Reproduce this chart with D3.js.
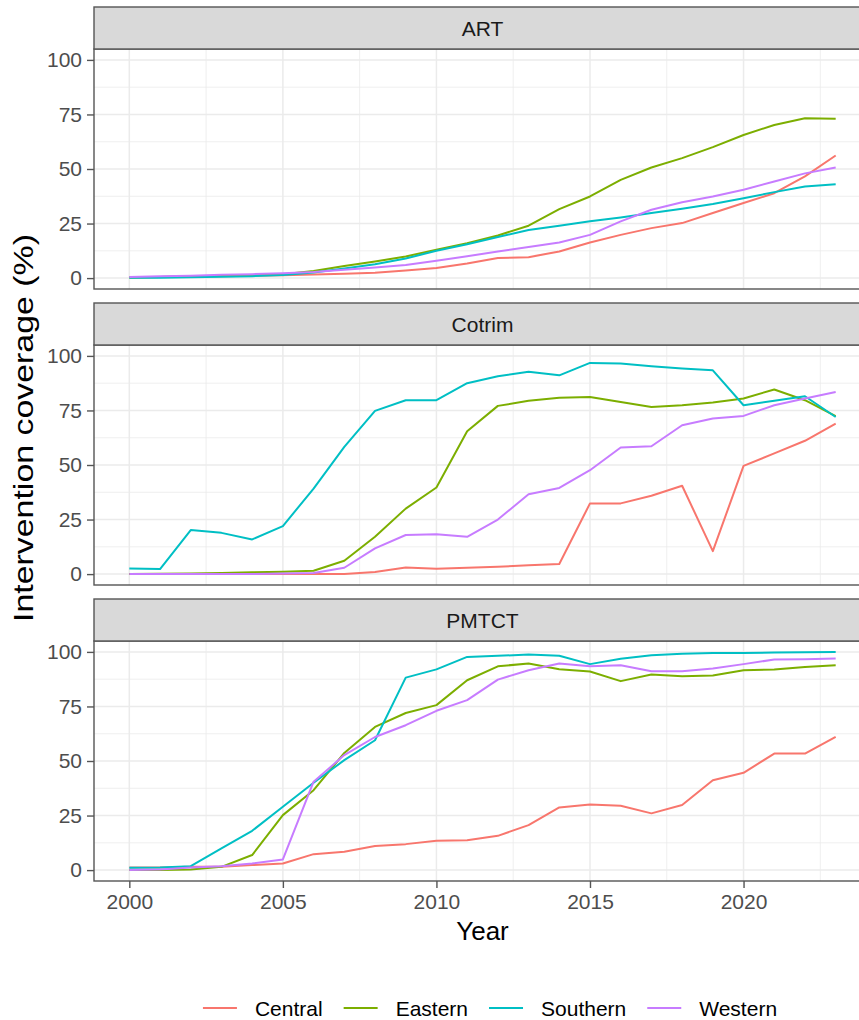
<!DOCTYPE html>
<html>
<head>
<meta charset="utf-8">
<script src="https://cdn.jsdelivr.net/npm/d3@7"></script>
<style>
  body { margin: 0; background: #fff; }
  svg { display: block; font-family: "Liberation Sans", Arial, sans-serif; }
</style>
</head>
<body>
<div class="chart"></div>
<script>
const years = [2000,2001,2002,2003,2004,2005,2006,2007,2008,2009,2010,2011,
               2012,2013,2014,2015,2016,2017,2018,2019,2020,2021,2022,2023];
const regions = ["Central", "Eastern", "Southern", "Western"];
const interventions = ["ART", "Cotrim", "PMTCT"];
const yTicks = [0, 25, 50, 75, 100];
const xTicks = [2000, 2005, 2010, 2015, 2020];

// ART
const artCentral  = [0.3,0.5,0.7,0.9,1.1,1.3,1.6,2.0,2.5,3.5,4.6,6.7,9.2,9.6,12.2,16.3,19.8,22.9,25.2,29.8,34.4,38.9,46.6,56.2];
const artEastern  = [0.3,0.5,0.8,1.0,1.3,1.8,3.3,5.5,7.6,9.9,13.0,16.0,19.5,24.0,31.6,37.4,45.0,50.7,55.0,60.0,65.6,70.2,73.3,73.0];
const artSouthern = [0.1,0.2,0.4,0.6,0.9,1.4,2.6,4.4,6.3,9.0,12.5,15.5,18.8,22.0,24.0,26.0,27.8,29.8,31.8,34.0,36.6,39.4,42.0,43.0];
const artWestern  = [0.5,0.8,1.1,1.5,1.8,2.2,2.8,3.8,4.8,6.0,8.0,10.0,12.2,14.2,16.3,19.8,26.0,31.3,34.8,37.4,40.5,44.3,48.0,50.7];

// Cotrim
const cotCentral  = [0,0,0,0,0,0,0,0,1.0,3.0,2.4,2.9,3.4,4.0,4.6,32.4,32.4,35.9,40.5,10.5,49.6,55.3,61.1,69.0];
const cotEastern  = [0,0.1,0.3,0.5,0.8,1.1,1.5,6.1,17.1,30.0,39.7,65.5,77.1,79.4,80.8,81.2,78.9,76.6,77.4,78.6,80.5,84.6,79.7,72.4];
const cotSouthern = [2.6,2.3,20.2,18.9,15.9,22.0,39.2,58.3,74.8,79.7,79.7,87.5,90.7,92.7,91.1,96.8,96.5,95.3,94.2,93.4,77.4,79.4,81.5,72.0];
const cotWestern  = [0,0,0,0,0,0.3,0.5,2.9,11.8,17.9,18.3,17.1,25.0,36.6,39.5,47.6,58.0,58.6,68.2,71.3,72.5,77.4,80.5,83.5];

// PMTCT
const pmCentral  = [1.2,1.2,1.5,1.5,2.3,3.0,7.3,8.4,11.0,11.9,13.4,13.7,15.7,20.6,28.7,30.1,29.5,26.0,29.8,41.2,44.6,53.4,53.4,61.1];
const pmEastern  = [0,0,0.3,1.5,6.9,25.2,36.6,53.7,65.6,72.0,75.6,87.0,93.4,94.7,92.1,91.0,86.6,89.6,88.9,89.2,91.6,91.9,93.1,93.9];
const pmSouthern = [1.1,1.2,1.8,9.9,18.0,29.0,40.0,50.4,59.5,88.2,92.0,97.7,98.2,98.8,98.2,94.4,96.9,98.5,99.2,99.5,99.5,99.7,99.8,100];
const pmWestern  = [0,0.3,1.2,1.8,3.0,4.9,40.5,52.7,61.0,66.4,73.0,77.9,87.3,91.6,94.7,93.4,93.9,91.1,91.1,92.4,94.4,96.5,96.6,97.0];

const panelData = {
    ART:    [artCentral, artEastern, artSouthern, artWestern],
    Cotrim: [cotCentral, cotEastern, cotSouthern, cotWestern],
    PMTCT:  [pmCentral, pmEastern, pmSouthern, pmWestern]
};

const colors = d3.scaleOrdinal()
    .domain(regions)
    .range(["#F8766D", "#7CAE00", "#00BFC4", "#C77CFF"]);

const W = 859, H = 1020;
const left = 94, right = 871;   // panel runs past the picture edge
const stripTop = 7, stripH = 42, plotH = 240, step = 296;

const svg = d3.select(".chart").append("svg")
    .attr("width", W)
    .attr("height", H);

const x = d3.scaleLinear()
    .domain([2000 - 1.15, 2023 + 1.15])
    .range([left, right]);

const xMinor = [2002.5, 2007.5, 2012.5, 2017.5, 2022.5];
const yMinor = [12.5, 37.5, 62.5, 87.5];

interventions.forEach((name, i) => {
    const top = stripTop + i * step + stripH;
    const y = d3.scaleLinear()
        .domain([-5, 105])
        .range([top + plotH, top]);

    const g = svg.append("g");

    // panel background + grid
    g.append("rect")
        .attr("x", left).attr("y", top)
        .attr("width", right - left).attr("height", plotH)
        .attr("fill", "#fff");

    g.selectAll(".yminor").data(yMinor).join("line")
        .attr("x1", left).attr("x2", right)
        .attr("y1", d => y(d)).attr("y2", d => y(d))
        .attr("stroke", "#EBEBEB").attr("stroke-width", 0.8);
    g.selectAll(".xminor").data(xMinor).join("line")
        .attr("y1", top).attr("y2", top + plotH)
        .attr("x1", d => x(d)).attr("x2", d => x(d))
        .attr("stroke", "#EBEBEB").attr("stroke-width", 0.8);
    g.selectAll(".ymajor").data(yTicks).join("line")
        .attr("x1", left).attr("x2", right)
        .attr("y1", d => y(d)).attr("y2", d => y(d))
        .attr("stroke", "#EBEBEB").attr("stroke-width", 1.5);
    g.selectAll(".xmajor").data(xTicks).join("line")
        .attr("y1", top).attr("y2", top + plotH)
        .attr("x1", d => x(d)).attr("x2", d => x(d))
        .attr("stroke", "#EBEBEB").attr("stroke-width", 1.5);

    // lines
    const line = d3.line()
        .x((d, j) => x(years[j]))
        .y(d => y(d));

    g.selectAll(".series")
        .data(regions.map((r, k) => ({region: r, values: panelData[name][k]})))
        .join("path")
        .attr("d", d => line(d.values))
        .attr("fill", "none")
        .attr("stroke", d => colors(d.region))
        .attr("stroke-width", 2)
        .attr("stroke-linejoin", "round");

    // border
    g.append("rect")
        .attr("x", left).attr("y", top)
        .attr("width", right - left).attr("height", plotH)
        .attr("fill", "none")
        .attr("stroke", "#555").attr("stroke-width", 1.4);

    // strip
    g.append("rect")
        .attr("x", left).attr("y", top - stripH)
        .attr("width", right - left).attr("height", stripH)
        .attr("fill", "#D9D9D9")
        .attr("stroke", "#555").attr("stroke-width", 1.4);
    g.append("text")
        .attr("x", (left + right) / 2)
        .attr("y", top - stripH / 2)
        .attr("dy", "0.36em")
        .attr("text-anchor", "middle")
        .attr("font-size", 21)
        .attr("fill", "#1A1A1A")
        .text(name);

    // y axis
    const yAxis = g.append("g")
        .attr("transform", "translate(" + left + ",0)")
        .call(d3.axisLeft(y).tickValues(yTicks).tickSize(7).tickPadding(5));
    yAxis.select(".domain").remove();
    yAxis.selectAll("line").attr("stroke", "#555").attr("stroke-width", 1.4);
    yAxis.selectAll("text")
        .attr("font-size", 21)
        .attr("font-family", "Liberation Sans, Arial, sans-serif")
        .attr("fill", "#4D4D4D");

    // x axis only under the last panel
    if (i === interventions.length - 1) {
        const xAxis = g.append("g")
            .attr("transform", "translate(0," + (top + plotH) + ")")
            .call(d3.axisBottom(x).tickValues(xTicks).tickFormat(d3.format("d")).tickSize(7).tickPadding(6));
        xAxis.select(".domain").remove();
        xAxis.selectAll("line").attr("stroke", "#555").attr("stroke-width", 1.4);
        xAxis.selectAll("text")
            .attr("font-size", 21)
            .attr("font-family", "Liberation Sans, Arial, sans-serif")
            .attr("fill", "#4D4D4D");
    }
});

// axis titles
svg.append("text")
    .attr("x", (left + right) / 2)
    .attr("y", 940)
    .attr("text-anchor", "middle")
    .attr("font-size", 26)
    .attr("fill", "#000")
    .text("Year");

svg.append("text")
    .attr("transform", "translate(33,428) rotate(-90)")
    .attr("text-anchor", "middle")
    .attr("font-size", 28)
    .attr("textLength", 388)
    .attr("lengthAdjust", "spacingAndGlyphs")
    .attr("fill", "#000")
    .text("Intervention coverage (%)");

// legend
const legend = svg.append("g");
const items = legend.selectAll("g").data(regions).join("g");
items.append("line")
    .attr("x1", 0).attr("x2", 34)
    .attr("y1", 0).attr("y2", 0)
    .attr("stroke", d => colors(d))
    .attr("stroke-width", 2);
items.append("text")
    .attr("x", 52)
    .attr("dy", "0.36em")
    .attr("font-size", 21)
    .attr("fill", "#000")
    .text(d => d);

let pos = 0;
const offsets = [];
items.each(function() {
    offsets.push(pos);
    pos += 52 + this.querySelector("text").getComputedTextLength() + 21;
});
const total = pos - 21;
items.attr("transform", (d, k) => "translate(" + offsets[k] + ",0)");
legend.attr("transform", "translate(" + (490 - total / 2) + ",1008)");
</script>
</body>
</html>
